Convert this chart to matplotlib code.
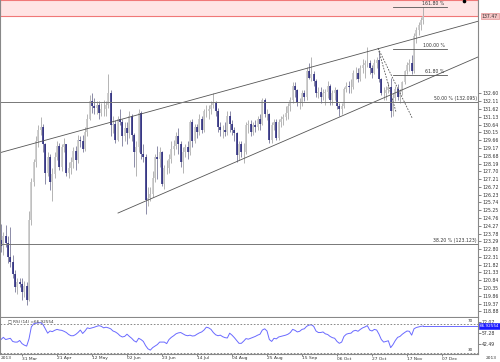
import numpy as np
import matplotlib.pyplot as plt

# EUR/JPY daily bars, index 0 = 19 Mar 2013
first_open = 123.4
closes = [123.0, 123.6, 123.2, 122.3, 122.0, 121.2, 120.4, 120.7, 120.6, 120.1,
          120.5, 119.6, 124.6, 127.0, 128.3, 129.6, 130.3, 130.5, 129.4, 127.6,
          128.6, 127.0, 127.5, 128.6, 129.3, 128.0, 129.2, 129.4, 127.6, 127.9,
          128.3, 129.0, 128.4, 129.7, 129.6, 129.1, 130.2, 131.0, 132.1, 131.8,
          131.7, 131.9, 131.4, 131.6, 131.6, 131.9, 132.6, 130.6, 130.7, 129.7,
          131.0, 130.8, 129.9, 130.4, 130.1, 131.2, 130.0, 128.9, 129.2, 131.4,
          128.8, 128.6, 125.9, 126.0, 126.3, 127.3, 128.6, 128.5, 128.9, 126.9,
          127.9, 127.9, 128.5, 129.1, 129.3, 129.9, 129.4, 128.3, 128.9, 129.2,
          128.9, 130.8, 129.6, 130.5, 130.2, 131.0, 130.3, 131.5, 131.5, 131.6,
          131.9, 132.0, 131.5, 130.5, 130.3, 130.3, 130.2, 131.2, 130.7, 130.3,
          130.1, 128.7, 129.4, 128.9, 128.9, 130.6, 130.7, 130.2, 130.6, 130.5,
          131.0, 130.7, 132.2, 131.3, 131.3, 129.7, 130.6, 130.8, 129.8, 130.8,
          131.0, 131.1, 131.4, 131.8, 132.2, 133.1, 132.8, 132.0, 132.0, 132.6,
          132.4, 134.0, 133.6, 133.8, 133.4, 132.6, 132.7, 132.4, 132.6, 132.7,
          133.1, 132.2, 132.6, 132.8, 131.8, 131.6, 131.8, 132.9, 133.1, 133.0,
          133.0, 133.9, 133.9, 133.5, 134.2, 134.4, 134.5, 134.5, 134.2, 133.9,
          134.5, 134.7, 133.5, 132.6, 132.6, 132.8, 133.0, 131.5, 132.3, 132.9,
          132.4, 132.7, 133.3, 134.0, 134.4, 134.5, 134.0, 136.2, 136.6, 136.9,
          137.2, 137.47]
highs = [124.4, 123.9, 124.3, 123.6, 124.2, 122.4, 121.5, 121.0, 121.0, 121.0,
         120.8, 120.7, 125.2, 127.3, 128.5, 129.9, 130.6, 131.1, 130.7, 129.5,
         128.9, 128.8, 127.9, 128.9, 129.6, 129.5, 129.4, 129.8, 129.4, 128.3,
         128.6, 129.2, 129.3, 130.0, 129.9, 130.0, 130.5, 131.3, 132.5, 132.6,
         132.3, 132.1, 132.1, 132.0, 132.2, 132.1, 133.8, 132.8, 131.2, 130.9,
         131.2, 131.6, 131.0, 130.8, 130.8, 131.5, 131.3, 130.1, 129.6, 131.6,
         131.5, 129.4, 128.8, 126.7, 126.7, 127.7, 128.8, 129.3, 129.2, 129.0,
         128.1, 128.4, 128.8, 129.6, 129.7, 130.2, 130.4, 129.6, 129.2, 129.4,
         129.6, 130.9, 131.0, 130.7, 130.7, 131.3, 131.2, 131.6, 131.9, 131.9,
         132.1, 132.6, 132.1, 131.7, 130.8, 130.6, 130.8, 131.5, 131.5, 130.9,
         130.5, 130.2, 129.6, 129.6, 129.5, 130.8, 130.9, 130.9, 130.8, 130.9,
         131.2, 131.3, 132.3, 132.3, 131.6, 131.4, 130.8, 131.0, 131.0, 131.0,
         131.2, 131.3, 131.8, 132.0, 132.4, 133.3, 133.3, 132.9, 132.3, 132.8,
         132.8, 134.3, 134.5, 134.9, 134.0, 133.5, 133.0, 133.0, 132.9, 132.9,
         133.4, 133.2, 132.8, 133.0, 132.9, 132.0, 132.0, 133.0, 133.3, 133.4,
         133.5, 134.1, 134.3, 134.2, 134.4, 134.8, 134.7, 135.5, 134.7, 134.4,
         134.8, 134.9, 135.3, 133.6, 133.0, 133.1, 133.3, 133.6, 132.6, 133.1,
         133.2, 132.9, 133.4, 134.1, 134.6, 134.8, 135.0, 136.4, 136.8, 137.1,
         137.4, 138.05]
lows = [122.6, 122.4, 122.9, 121.9, 121.7, 121.0, 120.1, 120.0, 120.4, 119.6,
        119.8, 119.3, 119.5, 124.3, 126.8, 128.0, 129.2, 130.0, 128.9, 126.9,
        127.4, 126.5, 125.8, 127.3, 128.4, 127.8, 127.7, 128.9, 127.4, 127.3,
        127.5, 127.9, 127.8, 128.2, 129.2, 128.9, 129.0, 129.9, 130.9, 131.4,
        131.3, 131.3, 131.0, 131.2, 131.2, 131.2, 131.7, 129.9, 130.1, 129.5,
        129.6, 130.6, 129.3, 129.6, 129.4, 129.8, 129.6, 128.0, 127.4, 128.9,
        128.5, 128.3, 125.0, 125.5, 125.8, 126.1, 127.0, 127.2, 128.0, 126.8,
        126.6, 127.5, 127.6, 128.2, 128.7, 129.1, 128.8, 128.0, 127.6, 128.6,
        128.5, 128.7, 129.2, 129.5, 129.8, 130.0, 130.1, 130.2, 131.1, 131.0,
        131.3, 131.7, 131.2, 130.2, 129.9, 129.8, 129.9, 130.0, 130.2, 130.0,
        129.6, 128.3, 128.4, 128.6, 128.2, 128.8, 130.1, 129.9, 130.0, 130.2,
        130.3, 130.3, 130.6, 131.1, 130.9, 129.5, 129.5, 130.3, 129.7, 129.7,
        130.5, 130.6, 130.9, 131.0, 131.5, 132.0, 132.4, 131.8, 131.6, 131.8,
        132.1, 132.2, 133.5, 133.4, 133.1, 132.4, 132.3, 132.0, 132.2, 131.9,
        132.3, 131.9, 131.9, 132.2, 131.6, 131.2, 131.3, 131.7, 132.7, 132.6,
        132.6, 132.9, 133.5, 133.3, 133.4, 133.9, 133.6, 134.3, 133.8, 133.6,
        133.8, 134.2, 133.3, 132.5, 132.2, 132.2, 132.6, 131.1, 131.2, 132.1,
        132.2, 132.0, 132.5, 133.2, 133.8, 134.0, 133.8, 133.9, 135.8, 136.3,
        136.6, 137.0]
rsi = [48.5, 51.5, 48.5, 49.4, 50.2, 45.9, 45.0, 45.0, 47.2, 42.9,
       40.8, 39.5, 49.4, 65.8, 70.0, 70.9, 71.3, 71.7, 69.1, 63.2,
       57.2, 60.2, 59.3, 61.1, 62.4, 61.5, 61.1, 59.8, 58.1, 55.4,
       53.7, 53.7, 55.4, 58.1, 61.5, 56.8, 60.2, 64.5, 63.6, 64.5,
       65.4, 66.6, 67.5, 66.6, 64.5, 65.4, 64.5, 63.2, 60.2, 58.9,
       56.8, 53.7, 52.0, 52.8, 55.8, 52.8, 50.2, 46.8, 45.0, 50.2,
       48.5, 45.9, 40.0, 35.7, 34.0, 37.4, 39.5, 41.6, 45.0, 45.0,
       45.0, 42.9, 48.5, 51.5, 53.7, 56.3, 57.6, 58.1, 56.3, 54.5,
       53.7, 54.5, 53.3, 53.7, 55.8, 57.6, 58.9, 61.5, 65.4, 64.5,
       62.4, 58.1, 55.0, 53.7, 54.5, 52.4, 51.1, 50.6, 57.2, 54.5,
       51.1, 47.2, 43.3, 43.3, 46.3, 49.8, 49.0, 50.2, 51.5, 52.8,
       54.5, 55.8, 61.5, 63.2, 60.2, 48.5, 45.9, 50.2, 49.4, 52.0,
       52.8, 53.7, 54.5, 55.8, 58.1, 62.4, 61.1, 58.9, 59.8, 62.4,
       63.2, 66.6, 68.3, 68.7, 66.6, 60.2, 58.1, 58.1, 58.9, 56.3,
       55.4, 52.8, 51.1, 50.2, 45.9, 43.3, 45.0, 52.8, 55.8, 56.8,
       57.2, 60.2, 61.1, 59.8, 62.4, 64.5, 65.8, 67.5, 61.5, 60.2,
       62.4, 61.5, 55.8, 48.5, 45.0, 45.9, 46.8, 37.4, 41.6, 47.2,
       51.5, 52.8, 55.8, 58.1, 60.2, 59.8, 54.5, 63.2, 65.0, 65.8,
       66.6, 66.9]

date_labels = ["31 Mar", "21 Apr", "12 May", "02 Jun", "23 Jun", "14 Jul", "04 Aug",
               "25 Aug", "15 Sep", "06 Oct", "27 Oct", "17 Nov", "07 Dec"]
date_bars = [9, 24, 39, 54, 69, 84, 99, 114, 129, 144, 159, 174, 189]
price_ticks = np.round(118.88 + 0.49 * np.arange(29), 2)
rsi_ticks = [42.49, 57.28, 72.07]

# drawn objects (bar index, price)
upper_channel = ([-0.43, 204.43], [128.87, 137.15])
lower_channel = ([50.15, 204.43], [125.07, 134.90])
swing_lines = [([161.6, 176.2], [135.46, 131.06]), ([161.6, 169.3], [135.46, 131.43])]
retr_levels = [132.095, 123.123]
retr_labels = ["50.00 % (132.095)", "38.20 % (123.123)"]
ext_levels = [133.76, 135.40, 138.05]
ext_labels = ["61.80 %", "100.00 %", "161.80 %"]
ext_span = [168.0, 191.2]
zone = [137.48, 138.49]
last_price = "137.47"
rsi_last = "66.92554"

W, H = 500, 362
BAR_PX = 35 / 15
XMIN, XMAX = -1 / BAR_PX, 477 / BAR_PX


def box(x0, y0, x1, y1):
    return [x0 / W, 1 - y1 / H, (x1 - x0) / W, (y1 - y0) / H]


fig = plt.figure(figsize=(5, 3.62), dpi=100)
ax = fig.add_axes(box(0, 0, 478, 317))
rx = fig.add_axes(box(0, 318, 478, 354))

n = len(closes)
idx = np.arange(n)
c = np.array(closes)
o = np.r_[first_open, c[:-1]]
hi = np.array(highs)
lo = np.array(lows)
up = c >= o

ax.vlines(idx[up], lo[up], hi[up], color="#a8a8a8", lw=0.6)
ax.vlines(idx[~up], lo[~up], hi[~up], color="#7a7a9a", lw=0.6)
ax.vlines(idx[up], o[up], c[up], color="#c4c4c4", lw=1.1)
ax.vlines(idx[~up], c[~up], o[~up], color="#1e1e78", lw=1.1)

ax.axhspan(zone[0], zone[1], fc="#ffe4e4", ec="#f07878", lw=0.8, zorder=0)
ax.plot(*upper_channel, color="#555555", lw=0.6)
ax.plot(*lower_channel, color="#555555", lw=0.6)
for xs, ys in swing_lines:
    ax.plot(xs, ys, color="#555555", lw=0.6, ls=(0, (2, 1.5)))
for lvl, lab in zip(retr_levels, retr_labels):
    ax.axhline(lvl, color="#777777", lw=0.7)
    ax.text(XMAX - 0.5, lvl + 0.06, lab, fontsize=3.3, ha="right", va="bottom", color="#333333")
for lvl, lab in zip(ext_levels, ext_labels):
    ax.plot(ext_span, [lvl, lvl], color="#555555", lw=0.6)
    ax.text(ext_span[1] - 1, lvl + 0.08, lab, fontsize=3.3, ha="right", va="bottom", color="#333333")
ax.plot([198.3], [138.42], "o", ms=1.6, color="black")

ax.set_xlim(XMIN, XMAX)
ax.set_ylim(118.52, 138.49)
ax.yaxis.tick_right()
ax.set_yticks(price_ticks)
ax.set_yticklabels([f"{t:.2f}" for t in price_ticks])
ax.tick_params(axis="y", labelsize=3.3, length=2, width=0.5, pad=1, colors="#555555", labelcolor="#333333")
ax.set_xticks([])
ax.spines["top"].set_visible(False)
for s in ["left", "right", "bottom"]:
    ax.spines[s].set_color("#888888")
    ax.spines[s].set_linewidth(0.8)
ax.annotate(last_price, xy=(1.008, 137.47), xycoords=("axes fraction", "data"),
            fontsize=3.3, ha="left", va="center", color="#333333",
            bbox=dict(boxstyle="square,pad=0.15", fc="#f4c4c4", ec="#e08080", lw=0.4))

rx.plot(idx, rsi, color="#6a6aff", lw=0.7)
rx.plot([idx[-1], XMAX], [rsi[-1], rsi[-1]], color="#6a6aff", lw=0.7)
for lvl in [70, 30]:
    rx.axhline(lvl, color="#777777", lw=0.6, ls=(0, (2, 2)))
    rx.text(XMAX - 2, lvl + 0.8, str(lvl), fontsize=3.0, ha="right", va="bottom", color="#333333")
rx.set_xlim(XMIN, XMAX)
rx.set_ylim(28.67, 78.0)
rx.yaxis.tick_right()
rx.set_yticks(rsi_ticks)
rx.set_yticklabels([f"{t:.2f}" for t in rsi_ticks])
rx.tick_params(axis="y", labelsize=3.3, length=2, width=0.5, pad=1, colors="#555555", labelcolor="#333333")
rx.set_xticks(date_bars)
rx.set_xticklabels(date_labels)
rx.tick_params(axis="x", labelsize=3.2, length=1.5, width=0.5, pad=0.3, colors="#555555", labelcolor="#333333")
for lab in rx.get_xticklabels():
    lab.set_ha("left")
rx.spines["top"].set_visible(False)
for s in ["left", "right", "bottom"]:
    rx.spines[s].set_color("#888888")
    rx.spines[s].set_linewidth(0.8)
rx.text(0.016, 0.9, "\u25a1 RSI (14) =" + rsi_last, transform=rx.transAxes,
        fontsize=3.0, ha="left", va="center", color="#333333")
rx.annotate(rsi_last, xy=(1.004, rsi[-1]), xycoords=("axes fraction", "data"),
            fontsize=3.0, ha="left", va="center", color="white",
            bbox=dict(boxstyle="square,pad=0.15", fc="#1a1aff", ec="#1a1aff", lw=0.4))

fig.text(1 / W, 1 - 358 / H, "2013", fontsize=3.2, ha="left", va="center", color="#333333")
fig.text(486 / W, 1 - 358 / H, "2013", fontsize=3.2, ha="left", va="center", color="#333333")

fig.savefig("out.png", dpi=100, facecolor="white")
